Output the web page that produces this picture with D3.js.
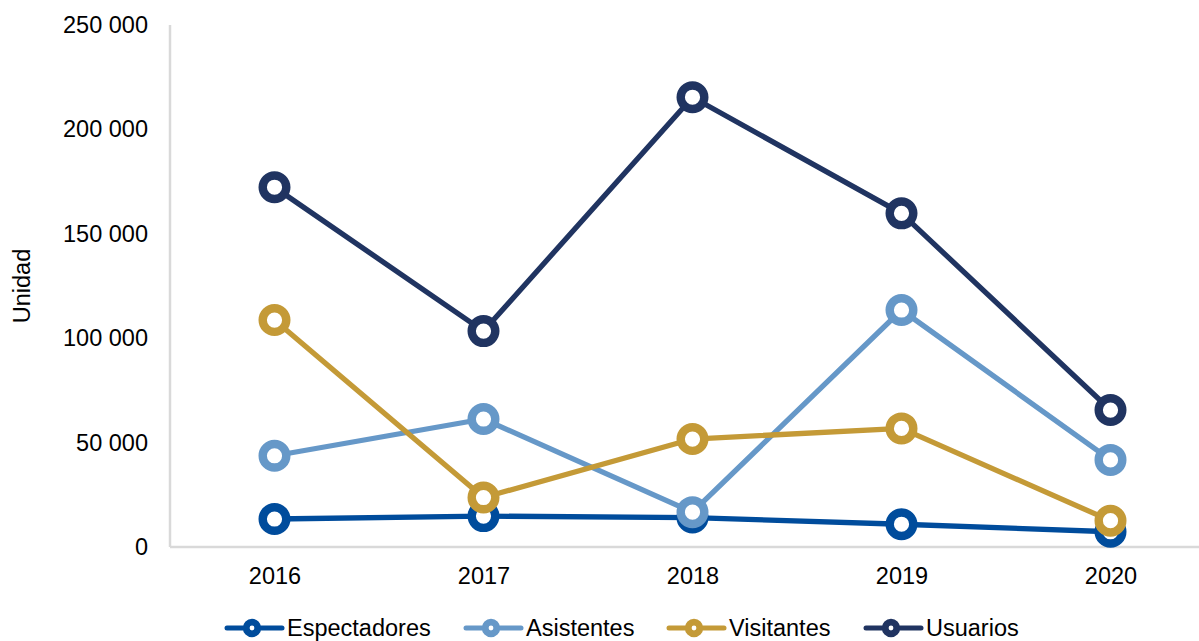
<!DOCTYPE html>
<html>
<head>
<meta charset="utf-8">
<script src="https://cdn.jsdelivr.net/npm/d3@7"></script>
<style>
  html, body { margin: 0; padding: 0; background: #fff; }
  svg { display: block; font-family: "Liberation Sans", Arial, sans-serif; }
</style>
</head>
<body>
<svg id="chart" width="1199" height="641"></svg>
<script>
// Yearly attendance figures by audience type
const years = ["2016", "2017", "2018", "2019", "2020"];
const espectadores = [13400, 14800, 14100, 10900, 7300];
const asistentes = [43700, 61300, 16700, 113500, 41700];
const visitantes = [108700, 23700, 51700, 56800, 12600];
const usuarios = [172300, 103400, 215400, 159800, 65600];
const yTicks = [0, 50000, 100000, 150000, 200000, 250000];
const seriesNames = ["Espectadores", "Asistentes", "Visitantes", "Usuarios"];
const seriesColors = ["#004c9c", "#6698c8", "#c49a37", "#203461"];

const series = [espectadores, asistentes, visitantes, usuarios].map((vals, i) => ({
  name: seriesNames[i],
  color: seriesColors[i],
  values: vals
}));

const svg = d3.select("#chart");
const plotLeft = 170, plotRight = 1215, plotTop = 25, plotBottom = 547;
const fontSize = 23.5;

const x = d3.scalePoint().domain(years).range([plotLeft, plotRight]).padding(0.5);
const y = d3.scaleLinear().domain([0, 250000]).range([plotBottom, plotTop]);

const fmt = v => d3.format(",")(v).replace(/,/g, " ");

// Y axis: labels only, plus a light vertical rule
const yAxis = svg.append("g")
  .attr("transform", `translate(${plotLeft},0)`)
  .call(d3.axisLeft(y).tickValues(yTicks).tickFormat(fmt).tickSize(0).tickPadding(22));
yAxis.select(".domain").remove();
yAxis.selectAll("text").attr("font-size", fontSize).attr("fill", "#000")
  .attr("font-family", "'Liberation Sans', Arial, sans-serif");

svg.append("line")
  .attr("x1", plotLeft).attr("x2", plotLeft)
  .attr("y1", plotTop).attr("y2", plotBottom)
  .attr("stroke", "#d9d9d9").attr("stroke-width", 2.5);

// X axis
const xAxis = svg.append("g")
  .attr("transform", `translate(0,${plotBottom})`)
  .call(d3.axisBottom(x).tickSize(0).tickPadding(20));
xAxis.select(".domain").remove();
xAxis.selectAll("text").attr("font-size", fontSize).attr("fill", "#000")
  .attr("font-family", "'Liberation Sans', Arial, sans-serif");

svg.append("line")
  .attr("x1", plotLeft).attr("x2", 1199)
  .attr("y1", plotBottom).attr("y2", plotBottom)
  .attr("stroke", "#d9d9d9").attr("stroke-width", 2.5);

// Y axis title
svg.append("text")
  .attr("transform", "translate(30,286) rotate(-90)")
  .attr("text-anchor", "middle")
  .attr("font-size", fontSize)
  .attr("fill", "#000")
  .text("Unidad");

// Lines and ring markers
const line = d3.line().x((d, i) => x(years[i])).y(d => y(d));

series.forEach(s => {
  const g = svg.append("g");
  g.append("path")
    .datum(s.values)
    .attr("d", line)
    .attr("fill", "none")
    .attr("stroke", s.color)
    .attr("stroke-width", 5.3)
    .attr("stroke-linejoin", "round");
  g.selectAll("circle")
    .data(s.values)
    .join("circle")
    .attr("cx", (d, i) => x(years[i]))
    .attr("cy", d => y(d))
    .attr("r", 11.8)
    .attr("fill", "#fff")
    .attr("stroke", s.color)
    .attr("stroke-width", 8.4);
});

// Legend
const legendX = [227, 466, 669, 866];
const legendY = 628;
series.forEach((s, i) => {
  const g = svg.append("g").attr("transform", `translate(${legendX[i]},${legendY})`);
  g.append("line")
    .attr("x1", 0).attr("x2", 55)
    .attr("y1", 0).attr("y2", 0)
    .attr("stroke", s.color).attr("stroke-width", 5)
    .attr("stroke-linecap", "round");
  g.append("circle")
    .attr("cx", 25).attr("cy", 0)
    .attr("r", 5.8)
    .attr("fill", "#fff")
    .attr("stroke", s.color)
    .attr("stroke-width", 6.8);
  g.append("text")
    .attr("x", 60).attr("y", 0)
    .attr("dy", "0.35em")
    .attr("font-size", fontSize)
    .attr("fill", "#000")
    .text(s.name);
});
</script>
</body>
</html>
